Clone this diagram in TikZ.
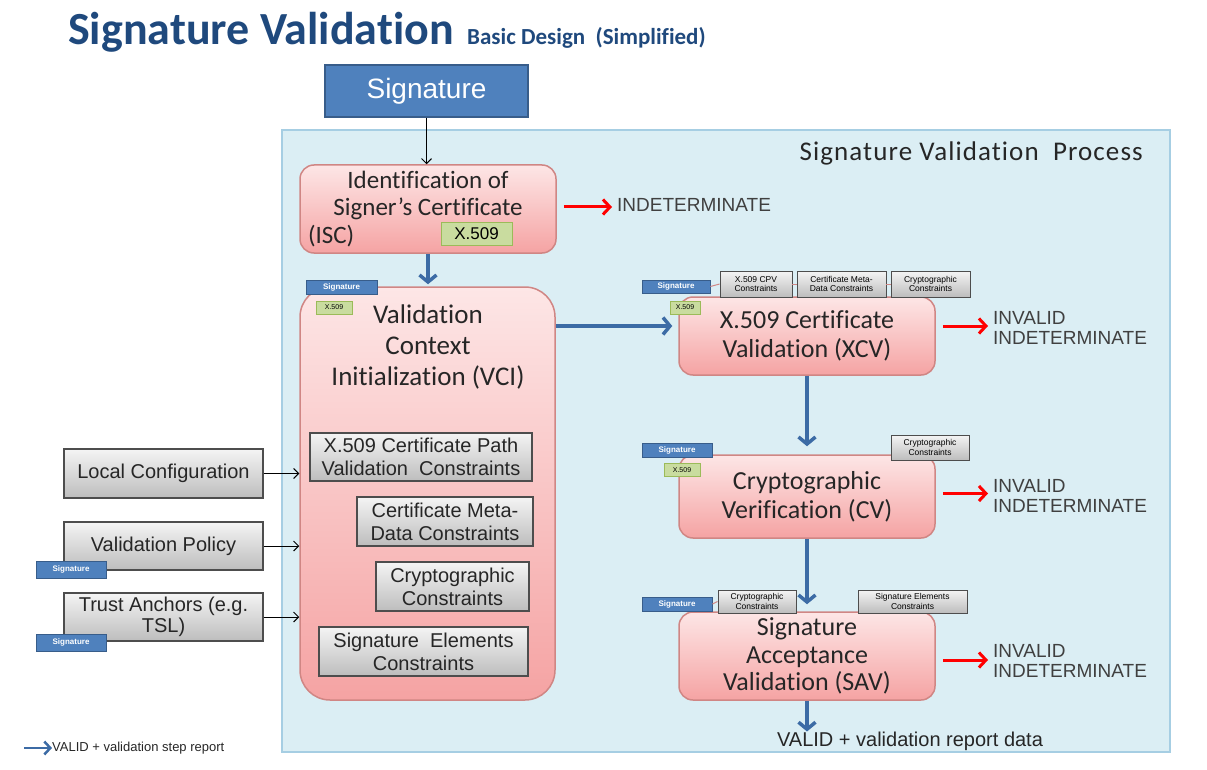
\documentclass[tikz,border=0pt]{standalone}
\usepackage{fontspec}
\setmainfont{Liberation Sans}
\newfontfamily\calibri[Ligatures=NoCommon]{Carlito}
\newfontfamily\calibriwide[Ligatures=NoCommon,LetterSpace=4]{Carlito}
\usetikzlibrary{arrows.meta,calc}

\definecolor{titleblue}{HTML}{1F497D}
\definecolor{sigblue}{HTML}{4F81BD}
\definecolor{sigdark}{HTML}{385D8A}
\definecolor{bgblue}{HTML}{DBEEF4}
\definecolor{bgline}{HTML}{A6CEE3}
\definecolor{pinktop}{HTML}{FDE6E6}
\definecolor{pinkbot}{HTML}{F5A3A3}
\definecolor{pinkline}{HTML}{D08684}
\definecolor{graytop}{HTML}{F4F4F4}
\definecolor{graybot}{HTML}{BDBDBD}
\definecolor{grayline}{HTML}{4D4D4D}
\definecolor{greentag}{HTML}{C9DC9F}
\definecolor{greenline}{HTML}{9BBB59}
\definecolor{flowblue}{HTML}{3C6BA5}
\definecolor{textgray}{HTML}{404040}

\tikzset{
	pinkbox/.style={draw=pinkline, line width=1.5pt, rounded corners=14pt, top color=pinktop, bottom color=pinkbot, inner sep=0pt, align=center, text=black!85, font=\calibri\fontsize{26}{29}\selectfont},
	graybox/.style={draw=grayline, line width=1.5pt, top color=graytop, bottom color=graybot, inner sep=0pt, align=center, text=black!85, font=\fontsize{20}{23}\selectfont},
	toptag/.style={draw=grayline, line width=0.8pt, top color=graytop, bottom color=graybot, inner sep=0pt, align=center, font=\fontsize{8.5}{9.5}\selectfont},
	sigtag/.style={draw=sigdark, fill=sigblue, line width=0.8pt, text=white, inner sep=0pt, minimum width=70pt, minimum height=14pt, font=\bfseries\fontsize{8}{8}\selectfont},
	xtag/.style={draw=greenline, fill=greentag, line width=0.8pt, inner sep=0pt, minimum width=36pt, minimum height=13pt, font=\fontsize{7}{7}\selectfont},
	tagline/.style={draw=pinkline, line width=1pt},
	flow/.style={draw=flowblue, line width=3.5pt, -{Straight Barb[length=7pt,width=17pt]}},
	fail/.style={draw=red, line width=3pt, -{Straight Barb[length=7pt,width=15pt]}},
	feed/.style={draw=black, line width=1pt, -{Straight Barb[length=5pt,width=10pt]}},
	outcome/.style={anchor=west, align=left, inner sep=0pt, text=textgray, font=\fontsize{19}{20}\selectfont}
}

\begin{document}
\begin{tikzpicture}[x=1pt, y=-1pt]
			%%%%% START %%%%%
			\useasboundingbox (0,0) rectangle (1207,770);
			
			\node[anchor=base west, inner sep=0pt, text=titleblue, font=\calibri\bfseries\fontsize{46}{46}\selectfont] (title) at (68,45) {Signature Validation};
			\node[anchor=base west, inner sep=0pt, text=titleblue, font=\calibri\bfseries\fontsize{23}{23}\selectfont] (subtitle) at (467,45) {Basic Design\ \ (Simplified)};
			
			\draw[fill=bgblue, draw=bgline, line width=1.2pt] (282,130) rectangle (1170,752);
			\node[anchor=east, inner sep=0pt, text=black!85, font=\calibriwide\fontsize{27}{27}\selectfont] (proclabel) at (1143,153) {Signature Validation\ \ Process};
			
			\node[draw=sigdark, fill=sigblue, line width=1.5pt, text=white, minimum width=203pt, minimum height=52pt, font=\fontsize{28}{28}\selectfont] (sig) at (426.5,91) {Signature};
			
			% ISC
			\node[pinkbox, minimum width=256pt, minimum height=88pt, font=\calibri\fontsize{25}{27.5}\selectfont] (isc) at (428,209) {Identification of\\Signer’s Certificate\\\makebox[240pt][l]{(ISC)}};
			\node[xtag, minimum width=71pt, minimum height=23pt, font=\fontsize{17}{17}\selectfont] (iscx) at (476.5,233.5) {X.509};
			\node[outcome] (iscout) at (617,205) {INDETERMINATE};
			
			% VCI
			\node[pinkbox, rounded corners=30pt, minimum width=255pt, minimum height=413pt] (vci) at (427.5,493.5) {};
			\node[align=center, inner sep=0pt, text=black!85, font=\calibri\fontsize{27}{31}\selectfont] (vcititle) at (428,347) {Validation\\Context\\Initialization (VCI)};
			\node[sigtag, minimum width=71pt] (vcisig) at (341.5,287) {Signature};
			\node[xtag] (vcix) at (334,307.5) {X.509};
			\node[graybox, minimum width=222pt, minimum height=48pt] (pathc) at (421,457) {X.509 Certificate Path\\Validation\ \ Constraints};
			\node[graybox, minimum width=176pt, minimum height=49pt] (metac) at (445,521.5) {Certificate Meta-\\Data Constraints};
			\node[graybox, minimum width=153pt, minimum height=49pt] (cryptc) at (452.5,586.5) {Cryptographic\\Constraints};
			\node[graybox, minimum width=209pt, minimum height=49pt] (elemc) at (423.5,651.5) {Signature\ \ Elements\\Constraints};
			
			% inputs
			\node[graybox, minimum width=199pt, minimum height=49pt] (localc) at (163.5,473.5) {Local Configuration};
			\node[graybox, minimum width=199pt, minimum height=48pt] (policy) at (163.5,546) {Validation Policy};
			\node[sigtag, minimum height=17pt] (policysig) at (71,569.5) {Signature};
			\node[graybox, minimum width=199pt, minimum height=48pt, font=\fontsize{20}{21}\selectfont] (anchors) at (163.5,617) {Trust Anchors (e.g.\\TSL)};
			\node[sigtag, minimum height=17pt] (anchorsig) at (71,642.5) {Signature};
			
			% XCV
			\node[pinkbox, minimum width=256pt, minimum height=78pt] (xcv) at (807,336) {X.509 Certificate\\Validation (XCV)};
			\node[sigtag, minimum width=68pt, minimum height=13pt] (xcvsig) at (676,286.5) {Signature};
			\node[xtag, minimum width=30pt] (xcvx) at (685,307.5) {X.509};
			\node[toptag, minimum width=72pt, minimum height=26pt] (xcvpath) at (756,284) {X.509 CPV\\Constraints};
			\node[toptag, minimum width=89pt, minimum height=26pt] (xcvmeta) at (841.5,284) {Certificate Meta-\\Data Constraints};
			\node[toptag, minimum width=79pt, minimum height=26pt] (xcvcrypt) at (930.5,284) {Cryptographic\\Constraints};
			\node[outcome] (xcvout) at (993,328) {INVALID\\INDETERMINATE};
			
			% CV
			\node[pinkbox, minimum width=256pt, minimum height=83pt] (cv) at (807,496.5) {Cryptographic\\Verification (CV)};
			\node[sigtag] (cvsig) at (677,450) {Signature};
			\node[xtag] (cvx) at (682,470) {X.509};
			\node[toptag, minimum width=78pt, minimum height=25pt] (cvcrypt) at (930,447.5) {Cryptographic\\Constraints};
			\node[outcome] (cvout) at (993,495.5) {INVALID\\INDETERMINATE};
			
			% SAV
			\node[pinkbox, minimum width=256pt, minimum height=88pt, font=\calibri\fontsize{26}{27.5}\selectfont] (sav) at (807,656) {Signature\\Acceptance\\Validation (SAV)};
			\node[sigtag] (savsig) at (677,604) {Signature};
			\node[toptag, minimum width=78pt, minimum height=23pt] (savcrypt) at (757,601.5) {Cryptographic\\Constraints};
			\node[toptag, minimum width=109pt, minimum height=23pt] (savelem) at (912.5,601.5) {Signature Elements\\Constraints};
			\node[outcome] (savout) at (993,661) {INVALID\\INDETERMINATE};
			
			\node[inner sep=0pt, text=black!85, font=\fontsize{20}{20}\selectfont] (report) at (910,741) {VALID + validation report data};
			\node[anchor=west, inner sep=0pt, text=black!85, font=\fontsize{13}{13}\selectfont] (legend) at (52,748) {VALID + validation step report};
			\coordinate (legstart) at (24,748);
			
			% connectors
			\draw[tagline] (xcvsig.east) -- (xcvpath.west);
			\draw[tagline] (xcvpath.east) -- (xcvmeta.west);
			\draw[tagline] (xcvmeta.east) -- (xcvcrypt.west);
			\draw[tagline] (savsig.east) -- (savcrypt.west);
			
			\draw[feed] (sig.south) -- (sig.south |- isc.north);
			\draw[feed] (localc.east) -- (localc.east -| vci.west);
			\draw[feed] (policy.east) -- (policy.east -| vci.west);
			\draw[feed] (anchors.east) -- (anchors.east -| vci.west);
			
			\coordinate (xcvin) at ($(xcv.west)+(-6,-10)$);
			\draw[flow] (isc.south) -- ($(isc.south |- vci.north)+(0,-2)$);
			\draw[flow] (vci.east |- xcvin) -- (xcvin);
			\draw[flow] (xcv.south) -- ($(cv.north)+(0,-8)$);
			\draw[flow] (cv.south) -- ($(sav.north)+(0,-7)$);
			\draw[flow] (sav.south) -- (sav.south |- report.north);
			\draw[flow, line width=2.5pt, -{Straight Barb[length=6pt,width=13pt]}] (legstart) -- (legend.west);
			
			\draw[fail] ($(isc.east |- iscout.west)+(7,2)$) -- ($(iscout.west)+(-5,2)$);
			\draw[fail] ($(xcv.east |- xcvout.west)+(7,-2)$) -- ($(xcvout.west)+(-5,-2)$);
			\draw[fail] ($(cv.east |- cvout.west)+(7,-2)$) -- ($(cvout.west)+(-5,-2)$);
			\draw[fail] ($(sav.east |- savout.west)+(7,-1)$) -- ($(savout.west)+(-5,-1)$);
			%%%%% END %%%%%
\end{tikzpicture}
\end{document}
